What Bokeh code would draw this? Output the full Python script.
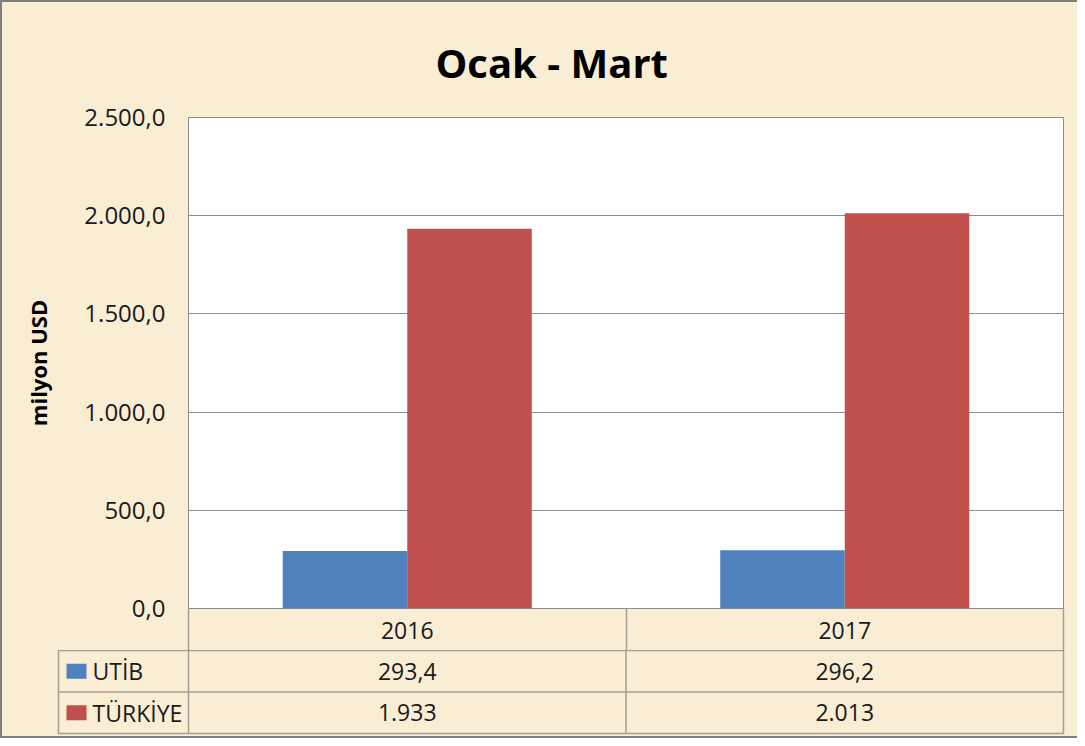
from bokeh.plotting import figure
from bokeh.layouts import column
from bokeh.models import Range1d, FixedTicker
from bokeh.embed import file_html
from bokeh.resources import INLINE

# ---- data ----
years = ["2016", "2017"]
series = ["UTİB", "TÜRKİYE"]
utib = [293.4, 296.2]
turkiye = [1933, 2013]
y_ticks = [0, 500, 1000, 1500, 2000, 2500]
colors = ["#4F81BD", "#C0504D"]
title_text = "Ocak - Mart"
y_label = "milyon USD"


def tr_fmt(v, dec):
    s = f"{v:,.{dec}f}"
    return s.replace(",", "X").replace(".", ",").replace("X", ".")


PARCH = "#F9EDD4"
GRID = "#8C8C8C"
TBL = "#A39E94"
FONT = "Open Sans"
TXT = "#1a1a1a"

n = len(years)
xc = [i + 0.5 for i in range(n)]          # category centres
bounds = list(range(n + 1))               # category boundaries
W = 0.2846                                # bar width (category units)

# ---------------- chart ----------------
p1 = figure(width=1075, height=648,
            x_range=Range1d(0, n), y_range=Range1d(0, 2500),
            output_backend="svg", toolbar_location=None,
            min_border_left=186, min_border_right=14,
            min_border_top=115, min_border_bottom=42)
p1.background_fill_color = "white"
p1.border_fill_color = PARCH
p1.outline_line_color = GRID
p1.outline_line_width = 1

p1.title.text = title_text
p1.title.text_font = FONT
p1.title.text_font_size = "40px"
p1.title.text_font_style = "bold"
p1.title.text_color = "black"
p1.title.align = "left"
p1.title.offset = 247
p1.title.standoff = 55

p1.xgrid.visible = False
p1.ygrid.grid_line_color = GRID
p1.ygrid.grid_line_width = 1

ya = p1.yaxis[0]
ya.ticker = FixedTicker(ticks=y_ticks)
ya.major_label_overrides = {t: tr_fmt(t, 1) for t in y_ticks}
ya.axis_line_color = None
ya.major_tick_line_color = None
ya.minor_tick_line_color = None
ya.major_tick_out = 0
ya.major_tick_in = 0
ya.major_label_standoff = 23
ya.major_label_text_font = FONT
ya.major_label_text_font_size = "24px"
ya.major_label_text_color = TXT
ya.axis_label = y_label
ya.axis_label_text_font = FONT
ya.axis_label_text_font_style = "bold"
ya.axis_label_text_font_size = "22px"
ya.axis_label_text_color = "black"
ya.axis_label_standoff = 28

xa = p1.xaxis[0]
xa.ticker = FixedTicker(ticks=xc, minor_ticks=bounds)
xa.major_label_overrides = {c: y for c, y in zip(xc, years)}
xa.axis_line_color = None
xa.major_tick_line_color = None
xa.major_tick_out = 0
xa.major_tick_in = 0
xa.minor_tick_line_color = TBL
xa.minor_tick_line_width = 1.5
xa.minor_tick_out = 0
xa.minor_tick_in = -42        # separators of the year row (drawn outward)
xa.major_label_standoff = 13
xa.major_label_text_font = FONT
xa.major_label_text_font_size = "23px"
xa.major_label_text_color = TXT

p1.vbar(x=[c - W / 2 for c in xc], top=utib, width=W,
        fill_color=colors[0], line_color=None)
p1.vbar(x=[c + W / 2 for c in xc], top=turkiye, width=W,
        fill_color=colors[1], line_color=None)

# ---------------- data table ----------------
LEFT = -130 / 437.5          # left edge of the legend column (category units)
p2 = figure(width=1075, height=86,
            x_range=Range1d(LEFT, n), y_range=Range1d(0, 2),
            output_backend="svg", toolbar_location=None,
            min_border_left=56, min_border_right=14,
            min_border_top=0, min_border_bottom=3)
p2.background_fill_color = PARCH
p2.border_fill_color = PARCH
p2.outline_line_color = TBL
p2.outline_line_width = 1.5
p2.axis.visible = False
p2.grid.visible = False

# inner table lines
p2.segment(x0=[LEFT], y0=[1], x1=[n], y1=[1], line_color=TBL, line_width=1.5)
p2.segment(x0=bounds[:-1], y0=[0] * n, x1=bounds[:-1], y1=[2] * n,
           line_color=TBL, line_width=1.5)

row_y = [1.5, 0.5]
key_x = LEFT + 18 / 437.5
name_x = LEFT + 34 / 437.5
p2.rect(x=[key_x] * 2, y=row_y, width=20, height=15,
        width_units="screen", height_units="screen",
        fill_color=colors, line_color=None)
p2.text(x=[name_x] * 2, y=row_y, text=series, text_font={"value": FONT},
        text_font_size="23px", text_align="left", text_baseline="middle",
        text_color=TXT)
p2.text(x=xc, y=[row_y[0]] * n, text=[tr_fmt(v, 1) for v in utib],
        text_font={"value": FONT}, text_font_size="23px",
        text_align="center", text_baseline="middle", text_color=TXT)
p2.text(x=xc, y=[row_y[1]] * n, text=[tr_fmt(v, 0) for v in turkiye],
        text_font={"value": FONT}, text_font_size="23px",
        text_align="center", text_baseline="middle", text_color=TXT)

layout = column(p1, column(p2, spacing=0), spacing=0,
                styles={"border-top": "2px solid #7F7F7F",
                        "border-left": "2px solid #7F7F7F",
                        "border-bottom": "2px solid #7F7F7F",
                        "background-color": PARCH})

open("out.html", "w").write(file_html(layout, INLINE))
